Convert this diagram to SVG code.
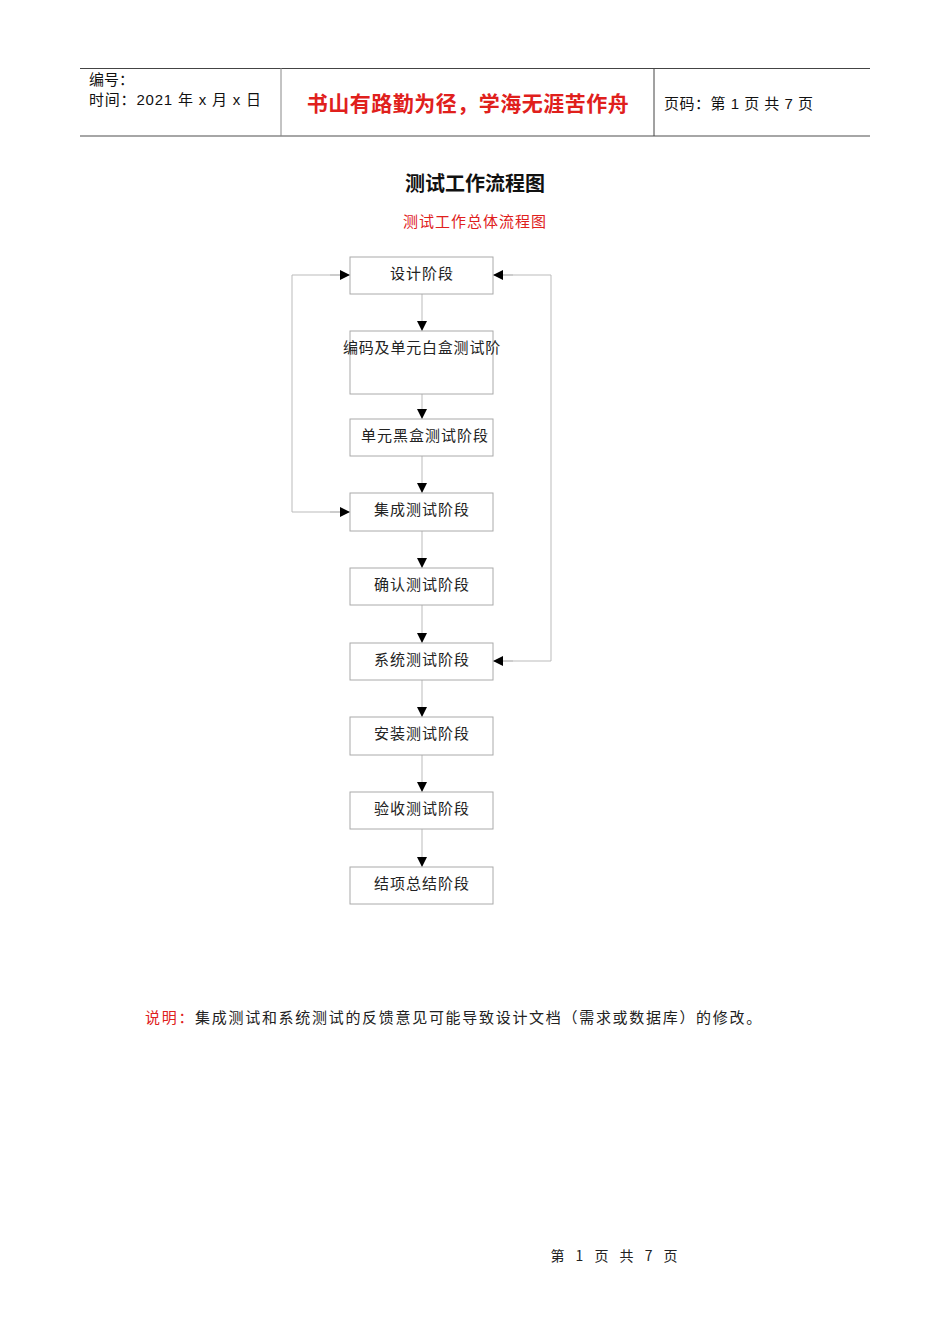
<svg xmlns="http://www.w3.org/2000/svg" width="950" height="1344" viewBox="0 0 950 1344">
<style>
.s{font-family:"Noto Sans CJK SC","Liberation Serif",serif;font-size:15px;fill:#222;letter-spacing:1px;}
.h{font-family:"Liberation Sans","Noto Sans CJK SC",sans-serif;font-size:15px;fill:#111;}
.b{fill:#fff;stroke:#aaa;stroke-width:1;}
.c{stroke:#bbb;stroke-width:1;fill:none;}
</style>
<defs>
<marker id="a" viewBox="0 0 10 10" refX="10" refY="5" markerWidth="10" markerHeight="10" markerUnits="userSpaceOnUse" orient="auto"><path d="M0,0L10,5L0,10z" fill="#000"/></marker>
</defs>
<rect width="950" height="1344" fill="#fff"/>
<g id="header">
<line x1="80" y1="68.500" x2="870" y2="68.500" stroke="#444" stroke-width="1"/>
<line x1="80" y1="136" x2="870" y2="136" stroke="#888" stroke-width="1.500"/>
<line x1="281" y1="68" x2="281" y2="136" stroke="#888"/>
<line x1="654" y1="68" x2="654" y2="136" stroke="#444"/>
<text class="h" x="89" y="85">编号：</text>
<text class="h" x="89" y="105" letter-spacing="0.8">时间：2021 年 x 月 x 日</text>
<text x="468" y="111" text-anchor="middle" font-family="Noto Sans CJK SC,sans-serif" font-size="21" font-weight="bold" letter-spacing="0.5" fill="#e0201c">书山有路勤为径，学海无涯苦作舟</text>
<text class="h" x="664" y="109" letter-spacing="0.5">页码：第 1 页  共 7 页</text>
</g>
<text x="475" y="191" text-anchor="middle" font-family="Noto Sans CJK SC,sans-serif" font-size="20" font-weight="bold" fill="#111">测试工作流程图</text>
<text x="475" y="227" text-anchor="middle" font-family="Noto Sans CJK SC,serif" font-size="15" letter-spacing="1" fill="#e0201c">测试工作总体流程图</text>
<g id="connectors">
<line class="c" x1="422" y1="294" x2="422" y2="331" marker-end="url(#a)"/>
<line class="c" x1="422" y1="394" x2="422" y2="419" marker-end="url(#a)"/>
<line class="c" x1="422" y1="456" x2="422" y2="493" marker-end="url(#a)"/>
<line class="c" x1="422" y1="531" x2="422" y2="568" marker-end="url(#a)"/>
<line class="c" x1="422" y1="605" x2="422" y2="643" marker-end="url(#a)"/>
<line class="c" x1="422" y1="680" x2="422" y2="717" marker-end="url(#a)"/>
<line class="c" x1="422" y1="755" x2="422" y2="792" marker-end="url(#a)"/>
<line class="c" x1="422" y1="829" x2="422" y2="867" marker-end="url(#a)"/>
<polyline class="c" points="350,275 292,275 292,512 350,512"/>
<line class="c" x1="330" y1="512" x2="350" y2="512" marker-end="url(#a)"/>
<line class="c" x1="330" y1="275" x2="350" y2="275" marker-end="url(#a)"/>
<polyline class="c" points="493,275 551,275 551,661 493,661"/>
<line class="c" x1="513" y1="275" x2="493" y2="275" marker-end="url(#a)"/>
<line class="c" x1="513" y1="661" x2="493" y2="661" marker-end="url(#a)"/>
</g>
<g id="n1"><rect class="b" x="350" y="257" width="143" height="37"/><text class="s" x="422" y="279" text-anchor="middle">设计阶段</text></g>
<g id="n2"><rect class="b" x="350" y="331" width="143" height="63"/><text class="s" x="422" y="353" text-anchor="middle" style="letter-spacing:0.8px">编码及单元白盒测试阶</text></g>
<g id="n3"><rect class="b" x="350" y="419" width="143" height="37"/><text class="s" x="425" y="441" text-anchor="middle">单元黑盒测试阶段</text></g>
<g id="n4"><rect class="b" x="350" y="493" width="143" height="38"/><text class="s" x="422" y="515" text-anchor="middle">集成测试阶段</text></g>
<g id="n5"><rect class="b" x="350" y="568" width="143" height="37"/><text class="s" x="422" y="590" text-anchor="middle">确认测试阶段</text></g>
<g id="n6"><rect class="b" x="350" y="643" width="143" height="37"/><text class="s" x="422" y="665" text-anchor="middle">系统测试阶段</text></g>
<g id="n7"><rect class="b" x="350" y="717" width="143" height="38"/><text class="s" x="422" y="739" text-anchor="middle">安装测试阶段</text></g>
<g id="n8"><rect class="b" x="350" y="792" width="143" height="37"/><text class="s" x="422" y="814" text-anchor="middle">验收测试阶段</text></g>
<g id="n9"><rect class="b" x="350" y="867" width="143" height="37"/><text class="s" x="422" y="889" text-anchor="middle">结项总结阶段</text></g>
<text class="s" x="145" y="1023" style="letter-spacing:1.7px"><tspan fill="#e0201c">说明：</tspan>集成测试和系统测试的反馈意见可能导致设计文档（需求或数据库）的修改。</text>
<text class="s" x="616" y="1261" text-anchor="middle" style="font-size:14px;letter-spacing:4px">第 1 页 共 7 页</text>
</svg>
